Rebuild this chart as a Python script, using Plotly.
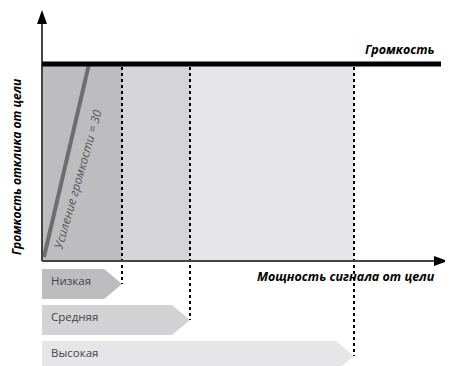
import plotly.graph_objects as go

# signal levels and where each one ends on the signal-power axis
levels = ["Низкая", "Средняя", "Высокая"]
level_ends = [80, 148, 312]
zone_colors = ["#bdbdbf", "#d5d5d7", "#e6e6e8"]
bar_colors = ["#bdbdbf", "#d3d3d5", "#e6e6e8"]

# volume ceiling and the gain line (gain = 30)
volume_limit = 197
gain_x = [2, 47]
gain_y = [4, 197]

FONT = "Open Sans"
X_END = 406
Y_END = 251

fig = go.Figure()

shapes = []
# zones under the ceiling
x0 = 0
for end, col in zip(level_ends, zone_colors):
    shapes.append(dict(type="rect", xref="x", yref="y", x0=x0, x1=end, y0=0, y1=volume_limit,
                       fillcolor=col, line=dict(width=0), layer="below"))
    x0 = end

# bottom arrows and dotted guides
for i, (name, end, col) in enumerate(zip(levels, level_ends, bar_colors)):
    yc = -23 - 36 * i
    h = 15
    path = (f"M0,{yc - h} L{end - 18},{yc - h} L{end},{yc} "
            f"L{end - 18},{yc + h} L0,{yc + h} Z")
    shapes.append(dict(type="path", xref="x", yref="y", path=path,
                       fillcolor=col, line=dict(width=0), layer="below"))
    shapes.append(dict(type="line", xref="x", yref="y", x0=end, x1=end,
                       y0=volume_limit - 3, y1=yc,
                       line=dict(color="black", width=2, dash="dot")))
    fig.add_annotation(x=7, y=yc + 4, text=name, showarrow=False, xanchor="left",
                       font=dict(family=FONT, size=11.5, color="#444444"))

# axes with arrowheads
shapes.append(dict(type="line", xref="x", yref="y", x0=0, x1=X_END - 10, y0=0, y1=0,
                   line=dict(color="#444444", width=2)))
shapes.append(dict(type="line", xref="x", yref="y", x0=0, x1=0, y0=0, y1=Y_END - 10,
                   line=dict(color="#444444", width=2)))
shapes.append(dict(type="path", xref="x", yref="y",
                   path=f"M{X_END},0 L{X_END - 14},5 L{X_END - 14},-5 Z",
                   fillcolor="black", line=dict(width=0)))
shapes.append(dict(type="path", xref="x", yref="y",
                   path=f"M0,{Y_END} L-5,{Y_END - 14} L5,{Y_END - 14} Z",
                   fillcolor="black", line=dict(width=0)))

# volume ceiling
shapes.append(dict(type="line", xref="x", yref="y", x0=0, x1=399,
                   y0=volume_limit, y1=volume_limit, line=dict(color="black", width=5)))

fig.add_trace(go.Scatter(x=gain_x, y=gain_y, mode="lines",
                         line=dict(color="#6e6e6e", width=4), hoverinfo="skip"))

fig.add_annotation(x=35, y=81, text="<i>Усиление громкости = 30</i>", showarrow=False,
                   textangle=-74, font=dict(family=FONT, size=12, color="#555555"))
fig.add_annotation(x=395, y=212, text="<b><i>Громкость</i></b>", showarrow=False,
                   xanchor="right", font=dict(family=FONT, size=12.5, color="black"))
fig.add_annotation(x=395, y=-15, text="<b><i>Мощность сигнала от цели</i></b>", showarrow=False,
                   xanchor="right", font=dict(family=FONT, size=12.5, color="black"))
fig.add_annotation(x=-26, y=94, text="<b><i>Громкость отклика от цели</i></b>", showarrow=False,
                   textangle=-90, font=dict(family=FONT, size=12, color="black"))

# the page body adds an 8px margin, so the figure is 8px smaller and ranges are shifted
fig.update_layout(
    width=445, height=358,
    margin=dict(l=0, r=0, t=0, b=0),
    plot_bgcolor="white", paper_bgcolor="white",
    showlegend=False,
    shapes=shapes,
    xaxis=dict(range=[-34, 411], visible=False, fixedrange=True),
    yaxis=dict(range=[-105, 253], visible=False, fixedrange=True),
)

fig.write_html("out.html")
